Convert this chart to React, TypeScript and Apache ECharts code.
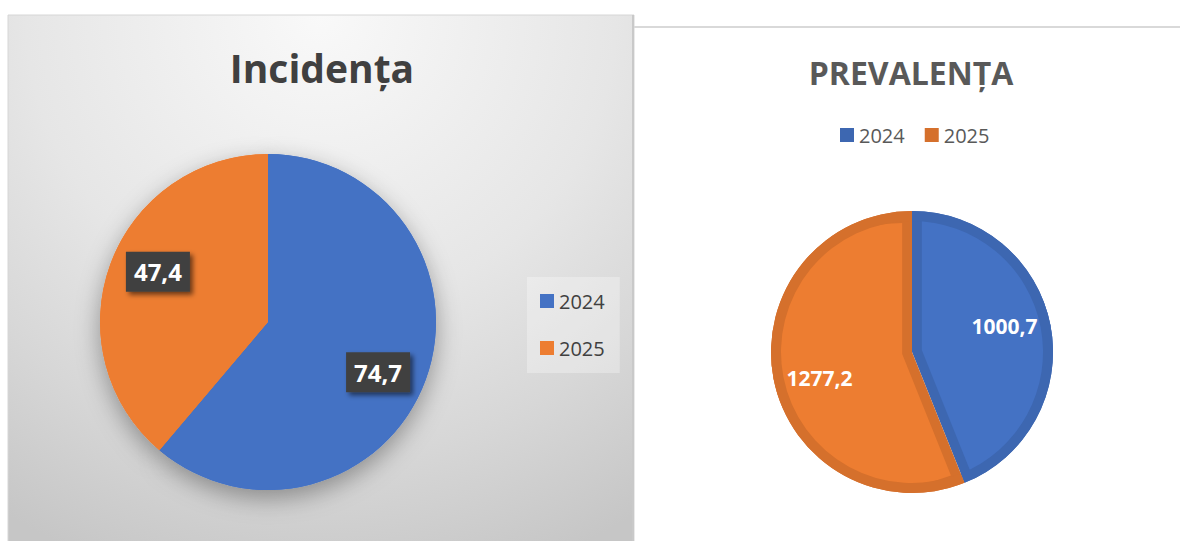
import React, { useEffect, useRef } from 'react';
import * as echarts from 'echarts';

// ---- data ----
const years = ['2024', '2025'];
const incidenta = [74.7, 47.4];
const prevalenta = [1000.7, 1277.2];

// ---- styles ----
const baseColors = ['#4472C4', '#ED7D31'];
const darkColors = ['#3D67B1', '#D5702C'];
const FONT = 'Open Sans';

const fmt = (p: any) => String(p.value).replace('.', ',');

const mk = (vals: number[], colors: string[], extra: any = {}) =>
  years.map((n, i) => ({ name: n, value: vals[i], itemStyle: { color: colors[i] }, ...extra }));

const common = {
  type: 'pie',
  startAngle: 90,
  clockwise: true,
  silent: true,
  emphasis: { disabled: true },
  labelLine: { show: false },
  avoidLabelOverlap: false,
};

const L_CENTER = [268, 322];
const R_CENTER = [912, 352];

const option: any = {
  animation: false,
  textStyle: { fontFamily: FONT },
  graphic: [
    {
      type: 'rect',
      z: -10,
      shape: { x: 8, y: 15, width: 626, height: 540 },
      style: {
        fill: new echarts.graphic.RadialGradient(321, 15, 590, [
          { offset: 0, color: '#f9f9f9' },
          { offset: 0.5, color: '#e6e6e6' },
          { offset: 0.75, color: '#d7d7d7' },
          { offset: 1, color: '#c6c6c6' },
        ], true),
        stroke: '#d6d6d6',
        lineWidth: 1,
      },
    },
    {
      type: 'line',
      z: -9,
      shape: { x1: 633, y1: 15, x2: 633, y2: 541 },
      style: { stroke: '#c9c9c9', lineWidth: 2 },
    },
    {
      type: 'line',
      z: -9,
      shape: { x1: 634, y1: 27, x2: 1180, y2: 27 },
      style: { stroke: '#d9d9d9', lineWidth: 2 },
    },
    {
      type: 'text',
      x: 322,
      y: 67,
      style: {
        text: 'Incidența',
        fill: '#404040',
        font: `bold 39px "${FONT}"`,
        textAlign: 'center',
        textVerticalAlign: 'middle',
      },
    },
    {
      type: 'text',
      x: 911,
      y: 72,
      style: {
        text: 'PREVALENȚA',
        fill: '#595959',
        font: `bold 32px "${FONT}"`,
        textAlign: 'center',
        textVerticalAlign: 'middle',
      },
    },
  ],
  legend: [
    {
      orient: 'vertical',
      left: 527,
      top: 277,
      padding: [14, 15, 15, 13],
      itemGap: 27,
      itemWidth: 14,
      itemHeight: 14,
      icon: 'rect',
      backgroundColor: 'rgba(255,255,255,0.3)',
      selectedMode: false,
      textStyle: { fontSize: 20, color: '#404040', fontFamily: FONT, lineHeight: 20 },
      data: years.map((n, i) => ({ name: n, itemStyle: { color: baseColors[i] } })),
    },
    {
      orient: 'horizontal',
      left: 840,
      top: 125,
      padding: 0,
      itemGap: 20,
      itemWidth: 14,
      itemHeight: 14,
      icon: 'rect',
      selectedMode: false,
      textStyle: { fontSize: 20, color: '#595959', fontFamily: FONT, lineHeight: 20 },
      data: years.map((n, i) => ({ name: n, itemStyle: { color: darkColors[i] } })),
    },
  ],
  series: [
    // ---- Incidenta ----
    {
      ...common,
      name: 'inc-shadow',
      center: L_CENTER,
      radius: 168,
      label: { show: false },
      itemStyle: { shadowBlur: 24, shadowOffsetY: 8, shadowColor: 'rgba(0,0,0,0.35)' },
      data: mk(incidenta, baseColors),
    },
    {
      ...common,
      name: 'inc',
      center: L_CENTER,
      radius: 168,
      label: { show: false },
      data: mk(incidenta, baseColors),
    },
    {
      ...common,
      name: 'inc-labels',
      center: L_CENTER,
      startAngle: 85.6,
      radius: [90, 146],
      itemStyle: { color: 'rgba(0,0,0,0)' },
      label: {
        show: true,
        position: 'inside',
        formatter: fmt,
        color: '#ffffff',
        fontSize: 24,
        lineHeight: 24,
        fontWeight: 'bold',
        fontFamily: FONT,
        backgroundColor: '#404040',
        padding: [8, 8],
        shadowBlur: 5,
        shadowOffsetX: 3,
        shadowOffsetY: 3,
        shadowColor: 'rgba(0,0,0,0.55)',
      },
      data: mk(incidenta, ['rgba(0,0,0,0)', 'rgba(0,0,0,0)']),
    },
    // ---- Prevalenta ----
    {
      ...common,
      name: 'prev-outer',
      center: R_CENTER,
      radius: 141,
      label: { show: false },
      data: mk(prevalenta, darkColors),
    },
    {
      ...common,
      name: 'prev-inner',
      center: R_CENTER,
      radius: 131,
      selectedMode: 'multiple',
      selectedOffset: 10,
      label: { show: false },
      select: { itemStyle: {} },
      data: mk(prevalenta, baseColors, { selected: true }),
    },
    {
      ...common,
      name: 'prev-ring',
      center: R_CENTER,
      radius: [131, 141],
      label: { show: false },
      data: mk(prevalenta, darkColors),
    },
    {
      ...common,
      name: 'prev-labels',
      center: R_CENTER,
      startAngle: 94.75,
      radius: [65, 121],
      itemStyle: { color: 'rgba(0,0,0,0)' },
      label: {
        show: true,
        position: 'inside',
        formatter: fmt,
        color: '#ffffff',
        fontSize: 21,
        fontWeight: 'bold',
        fontFamily: FONT,
      },
      data: mk(prevalenta, ['rgba(0,0,0,0)', 'rgba(0,0,0,0)']),
    },
  ],
};

export default function App() {
  const ref = useRef<HTMLDivElement>(null);
  useEffect(() => {
    if (!ref.current) return;
    const chart = echarts.init(ref.current, null, { renderer: 'svg' });
    chart.setOption(option);
    return () => chart.dispose();
  }, []);
  return (
    <div
      ref={ref}
      style={{ position: 'fixed', left: 0, top: 0, width: 1180, height: 541, background: '#ffffff' }}
    />
  );
}
